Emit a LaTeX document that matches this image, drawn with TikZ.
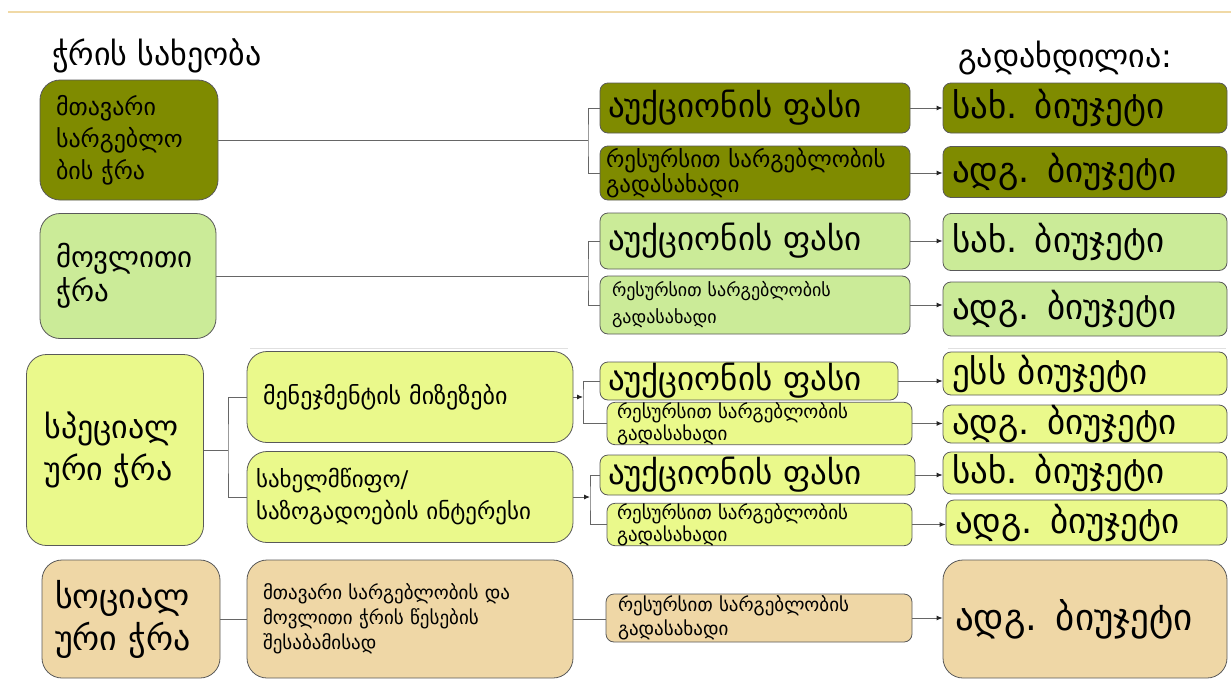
\documentclass[tikz,border=0pt]{standalone}
\usepackage{fontspec}
\setmainfont{DejaVu Sans}
\usetikzlibrary{arrows.meta}
\definecolor{olv}{HTML}{7F8B00}
\definecolor{lgr}{HTML}{CBEB98}
\definecolor{ylg}{HTML}{EAF98B}
\definecolor{tanbg}{HTML}{EFD7A6}
\definecolor{topln}{HTML}{F0D9A6}
\tikzset{
  bx/.style 2 args={draw=black!65, line width=0.8pt, minimum width=#1pt, minimum height=#2pt, inner xsep=8pt, inner ysep=0pt, align=left},
  big/.style={rounded corners=20pt},
  sml/.style={rounded corners=8pt},
  fs/.style 2 args={font=\fontsize{#1pt}{#2pt}\selectfont},
  conn/.style={draw=black!60, line width=0.9pt},
  arr/.style={conn, -{Latex[length=6pt,width=5pt,color=black!85]}},
}
\begin{document}
\begin{tikzpicture}[x=1pt,y=-1pt]
\useasboundingbox (0,0) rectangle (1231,680);
\draw[topln, line width=2pt] (8,12) -- (1231,12);
\node[anchor=west, inner sep=0pt, fs={32}{36}] (t1) at (52,56) {ჭრის სახეობა};
\node[anchor=west, inner sep=0pt, fs={32}{36}] (t2) at (958,58) {გადახდილია:};
% row 1
\node[bx={178}{120}, big, fill=olv, inner xsep=16pt, text width=146pt, fs={24}{32}] (m1) at (129,140) {მთავარი\\სარგებლო\\ბის ჭრა};
\node[bx={310}{50}, sml, fill=olv, text width=294pt, fs={33}{34}] (a1) at (755,108) {აუქციონის ფასი};
\node[bx={310}{54}, sml, fill=olv, inner xsep=6pt, text width=298pt, fs={23}{25}] (r1) at (755,173) {რესურსით სარგებლობის\\გადასახადი};
\node[bx={284}{50}, sml, fill=olv, inner xsep=9pt, text width=266pt, fs={35}{36}] (s1) at (1085,108) {სახ. ბიუჯეტი};
\node[bx={284}{51}, sml, fill=olv, inner xsep=9pt, text width=266pt, fs={35}{36}] (d1) at (1085,172) {ადგ. ბიუჯეტი};
% row 2
\node[bx={176}{125}, big, fill=lgr, inner xsep=16pt, text width=144pt, fs={29}{34}] (m2) at (128,276) {მოვლითი\\ჭრა};
\node[bx={310}{56}, sml, fill=lgr, text width=294pt, fs={33}{34}] (a2) at (755,241) {აუქციონის ფასი};
\node[bx={310}{58}, sml, fill=lgr, inner xsep=12pt, text width=286pt, fs={18}{27}] (r2) at (755,305) {რესურსით სარგებლობის\\გადასახადი};
\node[bx={284}{57}, sml, fill=lgr, inner xsep=9pt, text width=266pt, fs={35}{36}] (s2) at (1085,242) {სახ. ბიუჯეტი};
\node[bx={284}{54}, sml, fill=lgr, inner xsep=9pt, text width=266pt, fs={35}{36}] (d2) at (1085,309) {ადგ. ბიუჯეტი};
% faint separators
\draw[black!12, line width=0.8pt] (250,348) -- (568,348);
\draw[black!12, line width=0.8pt] (948,348) -- (1226,348);
% row 3 (special)
\node[bx={177}{191}, big, fill=ylg, inner xsep=18pt, text width=141pt, fs={32}{42}] (m3) at (115,450) {სპეციალ\\ური ჭრა};
\node[bx={326}{91}, big, fill=ylg, inner xsep=16pt, text width=294pt, fs={24}{30}] (g1) at (410,397) {მენეჯმენტის მიზეზები};
\node[bx={326}{91}, big, fill=ylg, inner xsep=9pt, text width=308pt, fs={23}{32}] (g2) at (410,497) {სახელმწიფო/\\საზოგადოების ინტერესი};
\node[bx={298}{38}, sml, fill=ylg, text width=282pt, fs={33}{34}] (a3) at (749,381) {აუქციონის ფასი};
\node[bx={305}{39}, sml, fill=ylg, inner xsep=10pt, text width=285pt, fs={19}{22}] (r3) at (759.5,423.5) {რესურსით სარგებლობის\\გადასახადი};
\node[bx={284}{43}, sml, fill=ylg, inner xsep=9pt, text width=266pt, fs={35}{36}] (e3) at (1085,373.5) {ესს ბიუჯეტი};
\node[bx={284}{38}, sml, fill=ylg, inner xsep=9pt, text width=266pt, fs={35}{36}] (d3) at (1085,424) {ადგ. ბიუჯეტი};
\node[bx={315}{40}, sml, fill=ylg, text width=299pt, fs={33}{34}] (a4) at (757.5,475) {აუქციონის ფასი};
\node[bx={305}{41}, sml, fill=ylg, inner xsep=10pt, text width=285pt, fs={19}{22}] (r4) at (759.5,524.5) {რესურსით სარგებლობის\\გადასახადი};
\node[bx={284}{42}, sml, fill=ylg, inner xsep=9pt, text width=266pt, fs={35}{36}] (s4) at (1085,473) {სახ. ბიუჯეტი};
\node[bx={281}{45}, sml, fill=ylg, inner xsep=9pt, text width=263pt, fs={35}{36}] (d4) at (1086.5,522.5) {ადგ. ბიუჯეტი};
% row 4 (social)
\node[bx={178}{118}, big, fill=tanbg, inner xsep=13pt, text width=152pt, fs={34}{42}] (m4) at (131,619) {სოციალ\\ური ჭრა};
\node[bx={326}{118}, big, fill=tanbg, inner xsep=16pt, text width=294pt, fs={19}{25}] (c4) at (410,619) {მთავარი სარგებლობის და\\მოვლითი ჭრის წესების\\შესაბამისად};
\node[bx={306}{48}, sml, fill=tanbg, inner xsep=12pt, text width=282pt, fs={19}{24}] (r5) at (759,618) {რესურსით სარგებლობის\\გადასახადი};
\node[bx={284}{118}, big, fill=tanbg, inner xsep=12pt, text width=260pt, fs={37}{40}] (d5) at (1085,619) {ადგ. ბიუჯეტი};
% connectors row 1
\coordinate (j1) at (m1.east -| 588,0);
\draw[conn] (m1.east) -- (j1);
\draw[conn] (a1.west) -| (j1) |- (r1.west);
\draw[arr] (a1.east) -- (a1.east -| s1.west);
\draw[arr] (r1.east) -- (r1.east -| d1.west);
% connectors row 2
\coordinate (j2) at (m2.east -| 588,0);
\draw[conn] (m2.east) -- (j2);
\draw[conn] (a2.west) -| (j2) |- (r2.west);
\draw[arr] (a2.east) -- (a2.east -| s2.west);
\draw[arr] (r2.east) -- (r2.east -| d2.west);
% connectors row 3
\coordinate (j5) at (m3.east -| 228,0);
\draw[conn] (m3.east) -- (j5);
\draw[conn] (g1.west) -| (j5) |- (g2.west);
\coordinate (j3) at (g1.east -| 583,0);
\draw[arr] (g1.east) -- (j3);
\draw[conn] (a3.west) -| (j3) |- (r3.west);
\coordinate (j4) at (g2.east -| 590,0);
\draw[arr] (g2.east) -- (j4);
\draw[conn] (a4.west) -| (j4) |- (r4.west);
\draw[arr] (a3.east) -- (a3.east -| e3.west);
\draw[arr] (r3.east) -- (r3.east -| d3.west);
\draw[arr] (a4.east) -- (a4.east -| s4.west);
\draw[arr] (r4.east) -- (r4.east -| d4.west);
% connectors row 4
\draw[conn] (m4.east) -- (m4.east -| c4.west);
\draw[conn] (c4.east) -- (c4.east -| r5.west);
\draw[arr] (r5.east) -- (r5.east -| d5.west);
\end{tikzpicture}
\end{document}
